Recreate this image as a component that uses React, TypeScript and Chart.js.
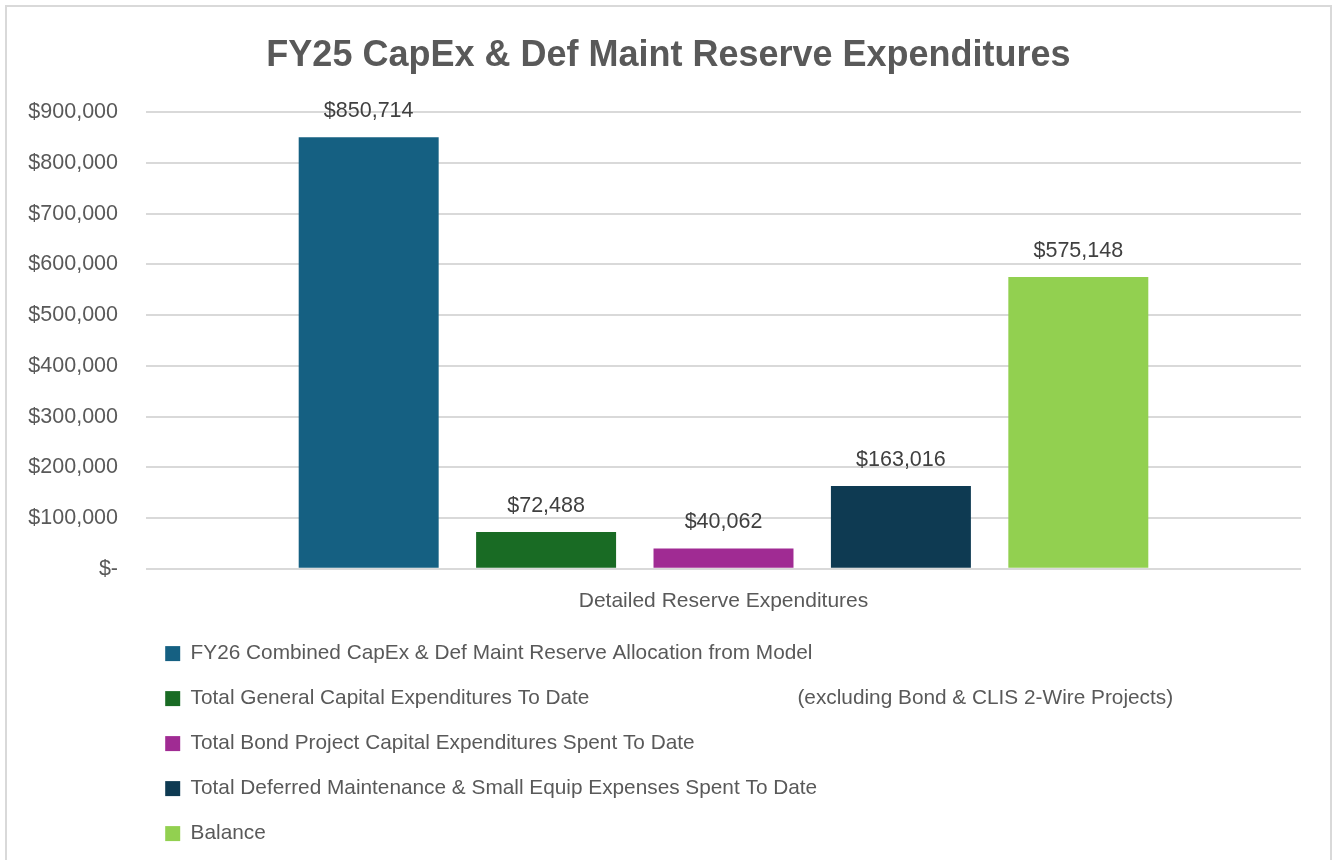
import React, { useEffect, useRef } from "react";
import { Chart, registerables } from "chart.js";

Chart.register(...registerables);

const categories = ["Detailed Reserve Expenditures"];
const seriesLabels = [
  "FY26 Combined CapEx & Def Maint Reserve Allocation from Model",
  "Total General Capital Expenditures To Date" + " ".repeat(36) + "(excluding Bond & CLIS 2-Wire Projects)",
  "Total Bond Project Capital Expenditures Spent To Date",
  "Total Deferred Maintenance & Small Equip Expenses Spent To Date",
  "Balance",
];
const seriesValues = [850714, 72488, 40062, 163016, 575148];
const seriesColors = ["#156082", "#196B24", "#A02B93", "#0E3A52", "#92D050"];
const yTicks = [0, 100000, 200000, 300000, 400000, 500000, 600000, 700000, 800000, 900000];

const fmt = (v: number) => (v === 0 ? "$-" : "$" + v.toLocaleString("en-US"));

const FONT = "'Liberation Sans', Arial, sans-serif";

export default function App() {
  const ref = useRef<HTMLCanvasElement>(null);
  useEffect(() => {
    document.body.style.margin = "0";
    const borderPlugin = {
      id: "border",
      beforeDraw(chart: any) {
        const ctx = chart.ctx;
        ctx.save();
        ctx.fillStyle = "#ffffff";
        ctx.fillRect(0, 0, chart.width, chart.height);
        ctx.strokeStyle = "#d9d9d9";
        ctx.lineWidth = 2;
        ctx.strokeRect(6, 6, 1325, 900);
        ctx.restore();
      },
    };
    const shiftPlugin = {
      id: "shift",
      afterLayout(chart: any) {
        const l = chart.legend;
        if (l) {
          l.left -= 5;
          l.right -= 5;
        }
        const t = chart.titleBlock;
        if (t) {
          t.left += 18;
          t.right += 18;
        }
      },
    };
    const dataLabels = {
      id: "dataLabels",
      afterDatasetsDraw(chart: any) {
        const ctx = chart.ctx;
        ctx.save();
        ctx.font = `21.5px ${FONT}`;
        ctx.fillStyle = "#404040";
        ctx.textAlign = "center";
        ctx.textBaseline = "middle";
        chart.data.datasets.forEach((ds: any, i: number) => {
          const meta = chart.getDatasetMeta(i);
          meta.data.forEach((bar: any, j: number) => {
            ctx.fillText(fmt(ds.data[j]), bar.x, bar.y - 26);
          });
        });
        ctx.restore();
      },
    };
    const chart = new Chart(ref.current!, {
      type: "bar",
      data: {
        labels: categories,
        datasets: seriesLabels.map((label, i) => ({
          label,
          data: [seriesValues[i]],
          backgroundColor: seriesColors[i],
          categoryPercentage: 0.768,
          barPercentage: 0.789,
        })),
      },
      options: {
        animation: false,
        responsive: false,
        layout: { padding: { top: 22, right: 32, bottom: 6, left: 0 } },
        plugins: {
          title: {
            display: true,
            text: "FY25 CapEx & Def Maint Reserve Expenditures",
            color: "#595959",
            font: { family: FONT, size: 36, weight: "bold" },
            padding: { top: 12, bottom: 35 },
          },
          legend: {
            position: "bottom",
            align: "start",
            fullSize: false,
            labels: {
              color: "#595959",
              font: { family: FONT, size: 20.8 },
              boxWidth: 15,
              boxHeight: 15,
              padding: 24.2,
              generateLabels(chart: any) {
                return chart.data.datasets.map((ds: any, i: number) => ({
                  text: String(ds.label).padEnd(125, " "),
                  fillStyle: ds.backgroundColor,
                  strokeStyle: ds.backgroundColor,
                  lineWidth: 0,
                  hidden: false,
                  datasetIndex: i,
                  fontColor: "#595959",
                }));
              },
            },
          },
          tooltip: { enabled: false },
        },
        scales: {
          x: {
            grid: { display: false, drawTicks: false },
            border: { display: false },
            ticks: {
              color: "#595959",
              font: { family: FONT, size: 21 },
              padding: 20,
            },
            afterFit(scale: any) {
              scale.height -= 15;
            },
          },
          y: {
            min: 0,
            max: 900000,
            afterBuildTicks(scale: any) {
              scale.ticks = yTicks.map((v) => ({ value: v }));
            },
            grid: { color: "#d9d9d9", lineWidth: 2, drawTicks: false },
            border: { display: false },
            ticks: {
              color: "#595959",
              font: { family: FONT, size: 21.5 },
              padding: 28,
              callback: (v: any) => fmt(Number(v)),
            },
            afterFit(scale: any) {
              scale.width = 146;
            },
          },
        },
      },
      plugins: [borderPlugin, shiftPlugin, dataLabels],
    });
    return () => chart.destroy();
  }, []);
  return <canvas ref={ref} width={1333} height={860} style={{ display: "block" }} />;
}
